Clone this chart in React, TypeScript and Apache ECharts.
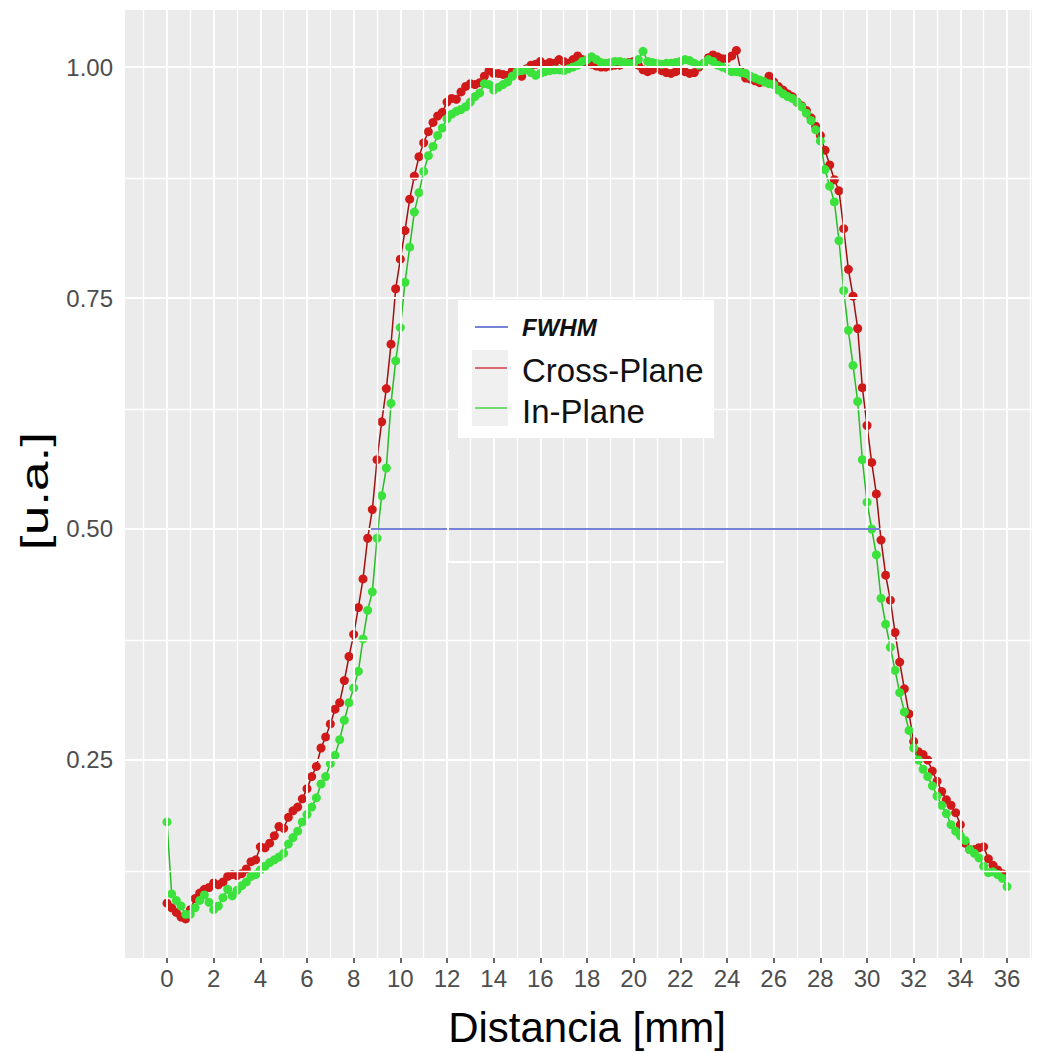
import React, { useEffect, useRef } from "react";
import * as echarts from "echarts";

// Sampling step of the profiles along the distance axis (mm)
const STEP_MM = 0.2;

// Cross-Plane profile, one value every 0.2 mm starting at 0 mm
const crossPlane: (number | null)[] = [
  0.095, 0.090, 0.085, 0.080, 0.078, 0.088, 0.100, 0.106, 0.110, 0.112,
  0.117, 0.115, 0.118, 0.124, 0.126, 0.125, 0.127, 0.132, 0.140, 0.142,
  0.156, 0.155, 0.160, 0.168, 0.178, 0.176, 0.188, 0.195, 0.199, 0.208,
  0.219, 0.232, 0.243, 0.263, 0.275, 0.289, 0.305, 0.312, 0.336, 0.362,
  0.386, 0.415, 0.446, 0.490, 0.521, 0.575, 0.616, 0.652, 0.700, 0.760,
  0.792, 0.823, 0.857, 0.882, 0.903, 0.918, 0.930, 0.940, 0.947, 0.951,
  0.962, 0.966, 0.965, 0.973, 0.979, 0.982, 0.981, 0.983, 0.990, 0.996,
  0.993, 0.993, 0.992, 0.991, 0.996, 0.993, 0.990, 0.998, 1.002, 1.003,
  1.006, 1.003, 1.005, 1.004, 1.008, 1.006, 1.004, 1.008, 1.012, 1.008,
  1.004, 1.003, 1.001, 1.000, 1.000, 1.001, 1.002, 1.002, 1.004, 1.005,
  1.006, 1.002, 0.997, 0.995, 0.997, 0.999, 0.996, 0.994, 0.993, 0.995,
  0.997, 0.995, 0.993, 0.994, 1.000, 1.004, 1.010, 1.013, 1.011, 1.009,
  1.009, 1.012, 1.018, 0.995, 0.988, 0.987, 0.985, 0.983, 0.984, 0.990,
  0.984, 0.979, 0.975, 0.971, 0.968, 0.962, 0.958, 0.953, 0.945, 0.936,
  0.926, 0.910, 0.894, 0.878, 0.866, 0.825, 0.781, 0.752, 0.717, 0.653,
  0.612, 0.572, 0.538, 0.488, 0.450, 0.423, 0.388, 0.356, 0.327, 0.300,
  0.270, 0.259, 0.256, 0.250, 0.238, 0.227, 0.216, 0.207, 0.201, 0.193,
  0.180, 0.160, 0.153, 0.153, 0.155, 0.156, 0.143, 0.136, 0.131, 0.127,
  null,
];

// In-Plane profile, one value every 0.2 mm starting at 0 mm
const inPlane: (number | null)[] = [
  0.183, 0.105, 0.098, 0.092, 0.083, 0.083, 0.090, 0.098, 0.104, 0.096,
  0.088, 0.092, 0.101, 0.110, 0.103, 0.109, 0.114, 0.118, 0.124, 0.126,
  0.131, 0.135, 0.139, 0.142, 0.145, 0.149, 0.159, 0.166, 0.173, 0.183,
  0.191, 0.199, 0.209, 0.224, 0.232, 0.246, 0.255, 0.272, 0.293, 0.312,
  0.328, 0.346, 0.381, 0.412, 0.432, 0.490, 0.536, 0.566, 0.636, 0.682,
  0.718, 0.767, 0.805, 0.843, 0.864, 0.887, 0.904, 0.914, 0.926, 0.934,
  0.944, 0.949, 0.952, 0.954, 0.957, 0.962, 0.968, 0.972, 0.982, 0.981,
  0.975, 0.978, 0.981, 0.984, 0.990, 0.995, 0.996, 0.997, 0.994, 0.991,
  0.993, 0.995, 0.996, 0.997, 0.997, 0.996, 0.998, 1.000, 1.002, 1.006,
  1.008, 1.011, 1.008, 1.005, 1.004, 1.005, 1.006, 1.006, 1.005, 1.004,
  1.004, 1.008, 1.017, 1.006, 1.005, 1.004, 1.003, 1.004, 1.004, 1.005,
  1.006, 1.008, 1.007, 1.004, 1.002, 1.004, 1.008, 1.006, 1.002, 1.000,
  0.998, 0.995, 0.995, 0.994, 0.993, 0.990, 0.988, 0.986, 0.984, 0.982,
  0.981, 0.975, 0.971, 0.968, 0.966, 0.962, 0.957, 0.950, 0.942, 0.932,
  0.920, 0.889, 0.871, 0.854, 0.812, 0.758, 0.715, 0.677, 0.638, 0.575,
  0.529, 0.500, 0.472, 0.425, 0.397, 0.372, 0.347, 0.323, 0.302, 0.282,
  0.263, 0.250, 0.240, 0.232, 0.222, 0.211, 0.201, 0.192, 0.180, 0.173,
  0.168, 0.163, 0.153, 0.149, 0.144, 0.135, 0.128, 0.129, 0.126, 0.122,
  0.113,
];

// FWHM segment (mm) at half maximum
const fwhmEdges = [8.74, 30.57];
const fwhmLevel = 0.5;

// Axis ticks / grid values
const xTickValues = [0, 2, 4, 6, 8, 10, 12, 14, 16, 18, 20, 22, 24, 26, 28, 30, 32, 34, 36];
const xMinorValues = [-1, 1, 3, 5, 7, 9, 11, 13, 15, 17, 19, 21, 23, 25, 27, 29, 31, 33, 35, 37];
const yTickValues = [0.25, 0.5, 0.75, 1.0];
const yMinorValues = [0.125, 0.375, 0.625, 0.875];

const seriesNames = ["FWHM", "Cross-Plane", "In-Plane"];
const xTitle = "Distancia [mm]";
const yTitle = "[u.a.]";

const FONT = "'Liberation Sans', Arial, sans-serif";

function toPoints(values: (number | null)[]) {
  const pts: [number, number][] = [];
  values.forEach((v, i) => {
    if (v !== null) pts.push([Math.round(i * STEP_MM * 10) / 10, v]);
  });
  return pts;
}

export default function App() {
  const ref = useRef<HTMLDivElement>(null);

  useEffect(() => {
    if (!ref.current) return;
    const chart = echarts.init(ref.current, undefined, { renderer: "svg" });

    const gridLines = [
      ...xTickValues.map((v) => ({ xAxis: v, lineStyle: { width: 1.9 } })),
      ...xMinorValues.map((v) => ({ xAxis: v, lineStyle: { width: 1.3 } })),
      ...yTickValues.map((v) => ({ yAxis: v, lineStyle: { width: 1.9 } })),
      ...yMinorValues.map((v) => ({ yAxis: v, lineStyle: { width: 1.3 } })),
    ];

    const legendX = 458;
    const legendY = 300;
    const LZ = 100;

    const option: echarts.EChartsOption = {
      animation: false,
      backgroundColor: "#FFFFFF",
      grid: {
        left: 125,
        top: 10,
        width: 907,
        height: 948,
        show: true,
        backgroundColor: "#EBEBEB",
        borderWidth: 0,
      },
      xAxis: {
        type: "value",
        min: -1.8,
        max: 37.07,
        splitLine: { show: false },
        axisLine: { show: false },
        axisTick: {
          show: true,
          customValues: xTickValues,
          length: 5,
          lineStyle: { color: "#333333", width: 1.5 },
        },
        axisLabel: {
          customValues: xTickValues,
          fontSize: 24,
          color: "#4D4D4D",
          margin: 8,
          fontFamily: FONT,
        },
      },
      yAxis: {
        type: "value",
        min: 0.0357,
        max: 1.0617,
        splitLine: { show: false },
        axisLine: { show: false },
        axisTick: {
          show: true,
          customValues: yTickValues,
          length: 5,
          lineStyle: { color: "#333333", width: 1.5 },
        },
        axisLabel: {
          customValues: yTickValues,
          formatter: (v: number) => v.toFixed(2),
          fontSize: 24,
          color: "#4D4D4D",
          margin: 12,
          fontFamily: FONT,
        },
      },
      series: [
        {
          name: "grid",
          type: "line",
          data: [],
          silent: true,
          z: 1,
          markLine: {
            silent: true,
            symbol: "none",
            label: { show: false },
            lineStyle: { color: "#FFFFFF", type: "solid" },
            emphasis: { disabled: true },
            data: gridLines as any,
          },
        },
        {
          name: seriesNames[1],
          type: "line",
          data: toPoints(crossPlane),
          z: 3,
          symbol: "circle",
          symbolSize: 9,
          showSymbol: true,
          lineStyle: { color: "#A01010", width: 1.5 },
          itemStyle: { color: "#D01A1A" },
        },
        {
          name: seriesNames[2],
          type: "line",
          data: toPoints(inPlane),
          z: 4,
          symbol: "circle",
          symbolSize: 9,
          showSymbol: true,
          lineStyle: { color: "#25BE25", width: 1.5 },
          itemStyle: { color: "#3CE23C" },
        },
        {
          name: seriesNames[0],
          type: "line",
          data: fwhmEdges.map((x) => [x, fwhmLevel]),
          z: 5,
          symbol: "none",
          lineStyle: { color: "#4A5AC6", width: 1.6 },
        },
      ],
      graphic: [
        // stray white frame visible left/below the legend in the original
        {
          type: "line",
          shape: { x1: 448, y1: 450, x2: 448, y2: 563 },
          style: { stroke: "#FFFFFF", lineWidth: 2 },
          z: LZ,
        },
        {
          type: "line",
          shape: { x1: 448, y1: 562, x2: 724, y2: 562 },
          style: { stroke: "#FFFFFF", lineWidth: 2 },
          z: LZ,
        },
        // axis titles
        {
          type: "text",
          x: 587,
          y: 1027,
          z: LZ,
          style: {
            text: xTitle,
            fontSize: 42,
            fontFamily: FONT,
            fill: "#000000",
            align: "center",
            verticalAlign: "middle",
          },
        },
        {
          type: "text",
          x: 35,
          y: 491,
          rotation: Math.PI / 2,
          scaleX: 1.4,
          z: LZ,
          style: {
            text: yTitle,
            fontSize: 38,
            fontFamily: FONT,
            fill: "#000000",
            align: "center",
            verticalAlign: "middle",
          },
        },
        // legend
        { type: "rect", z: LZ, shape: { x: legendX, y: legendY, width: 256, height: 138 }, style: { fill: "#FFFFFF" } },
        { type: "rect", z: LZ + 1, shape: { x: legendX + 14, y: legendY + 50, width: 36, height: 76 }, style: { fill: "#F0F0F0" } },
        { type: "line", z: LZ + 2, shape: { x1: legendX + 17, y1: legendY + 27, x2: legendX + 50, y2: legendY + 27 }, style: { stroke: "#4A5AC6", lineWidth: 1.4 } },
        { type: "line", z: LZ + 2, shape: { x1: legendX + 17, y1: legendY + 68, x2: legendX + 49, y2: legendY + 68 }, style: { stroke: "#D0303C", lineWidth: 1.4 } },
        { type: "line", z: LZ + 2, shape: { x1: legendX + 17, y1: legendY + 108, x2: legendX + 49, y2: legendY + 108 }, style: { stroke: "#3CD23C", lineWidth: 1.4 } },
        {
          type: "text",
          z: LZ + 2,
          x: legendX + 64,
          y: legendY + 27,
          style: {
            text: seriesNames[0],
            fontSize: 24,
            fontStyle: "italic",
            fontWeight: "bold",
            fontFamily: FONT,
            fill: "#111111",
            verticalAlign: "middle",
          },
        },
        {
          type: "text",
          z: LZ + 2,
          x: legendX + 64,
          y: legendY + 70,
          style: { text: seriesNames[1], fontSize: 33, fontFamily: FONT, fill: "#111111", verticalAlign: "middle" },
        },
        {
          type: "text",
          z: LZ + 2,
          x: legendX + 64,
          y: legendY + 111,
          style: { text: seriesNames[2], fontSize: 33, fontFamily: FONT, fill: "#111111", verticalAlign: "middle" },
        },
      ],
    };

    chart.setOption(option);
    return () => chart.dispose();
  }, []);

  return (
    <div
      ref={ref}
      style={{ position: "fixed", left: 0, top: 0, width: 1039, height: 1053 }}
    />
  );
}
